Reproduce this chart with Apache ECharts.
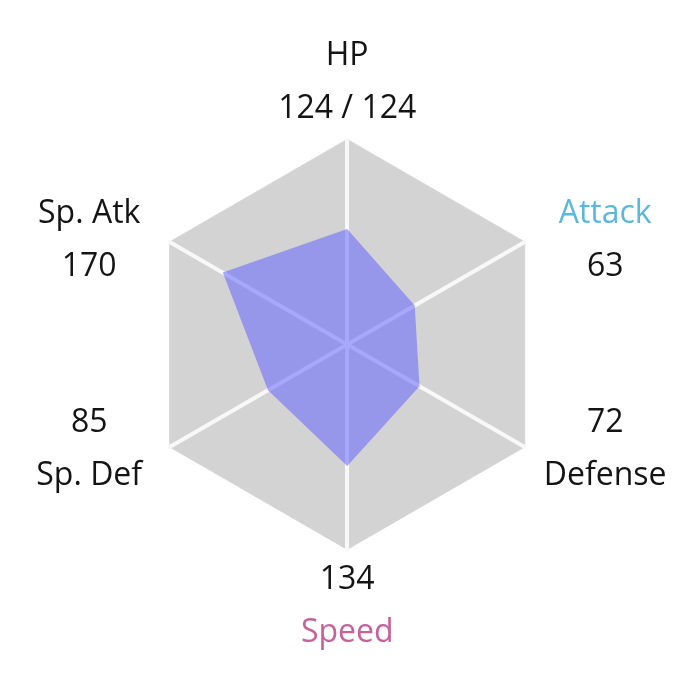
<!DOCTYPE html>
<html>
<head>
<meta charset="utf-8">
<script src="https://cdn.jsdelivr.net/npm/echarts@6/dist/echarts.min.js"></script>
<style>html,body{margin:0;padding:0;background:#fff}#c{width:700px;height:700px}</style>
</head>
<body>
<div id="c"></div>
<script>
// Stats in display order around the hexagon (clockwise from top)
const statNames = ['HP', 'Attack', 'Defense', 'Speed', 'Sp. Def', 'Sp. Atk'];
const statValues = [124, 63, 72, 134, 85, 170];
const statLabels = ['124 / 124', '63', '72', '134', '85', '170'];
const nameStyles = ['nm', 'atk', 'nm', 'spd', 'nm', 'nm'];
const scaleMin = -64;
const scaleMax = 270;

// ECharts radar goes counter-clockwise from top; reorder for clockwise display
const order = [0, 5, 4, 3, 2, 1];
const indicators = order.map(i => ({ name: statNames[i], min: scaleMin, max: scaleMax }));
const seriesValues = order.map(i => statValues[i]);

const FONT = '"Open Sans", sans-serif';
const baseText = { fontSize: 32, lineHeight: 53, fontFamily: FONT, align: 'center', width: 130 };

const chart = echarts.init(document.getElementById('c'), null, { renderer: 'canvas' });
chart.setOption({
  backgroundColor: '#ffffff',
  animation: false,
  radar: {
    center: ['49.6%', '49.2%'],
    radius: 205,
    startAngle: 90,
    splitNumber: 1,
    shape: 'polygon',
    indicator: indicators,
    nameGap: 4,
    axisName: {
      padding: [0, 12, 0, 12],
      formatter: function (name) {
        const i = statNames.indexOf(name);
        const nm = '{' + nameStyles[i] + '|' + name + '}';
        const val = '{val|' + statLabels[i] + '}';
        // lower half shows the value first
        const lowerHalf = (i >= 2 && i <= 4);
        return lowerHalf ? val + '\n' + nm : nm + '\n' + val;
      },
      rich: {
        nm: Object.assign({}, baseText, { color: '#141414' }),
        val: Object.assign({}, baseText, { color: '#141414' }),
        atk: Object.assign({}, baseText, { color: '#5ab8da' }),
        spd: Object.assign({}, baseText, { color: '#c5629a' })
      }
    },
    splitArea: { show: true, areaStyle: { color: ['#d3d3d3'] } },
    splitLine: { show: true, lineStyle: { color: '#d6d6d6', width: 1 } },
    axisLine: { show: true, lineStyle: { color: '#f8f8f8', width: 4 } }
  },
  series: [{
    type: 'radar',
    symbol: 'none',
    silent: true,
    lineStyle: { width: 0, opacity: 0 },
    areaStyle: { color: 'rgb(100,100,255)', opacity: 0.55 },
    data: [{ value: seriesValues, name: 'Stats' }]
  }]
});
</script>
</body>
</html>
